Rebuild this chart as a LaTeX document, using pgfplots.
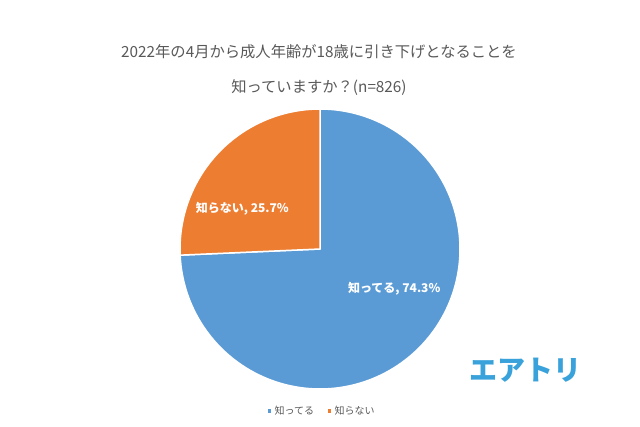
\documentclass[border=0pt]{standalone}
\usepackage{pgfplots}
\usepackage{pgfplotstable}
\pgfplotsset{compat=1.18}
\usepackage{fontspec}
\setmainfont{Noto Sans CJK JP}
\definecolor{pieblue}{HTML}{5B9BD5}
\definecolor{pieorange}{HTML}{ED7D31}
\definecolor{txtgray}{HTML}{595959}
\definecolor{logoblue}{HTML}{3AA2DB}
\pgfplotstableread{
label value
知ってる 74.3
知らない 25.7
}\piedata
\pgfplotstablegetelem{0}{value}\of\piedata\let\vA\pgfplotsretval
\pgfplotstablegetelem{1}{value}\of\piedata\let\vB\pgfplotsretval
\pgfmathsetmacro{\aStart}{90}
\pgfmathsetmacro{\aMid}{90-\vA*3.6}
\pgfmathsetmacro{\aEnd}{90-(\vA+\vB)*3.6}
\begin{document}
\begin{tikzpicture}[x=1pt,y=1pt]
\useasboundingbox[fill=white] (0,0) rectangle (640,426);
\node[text=txtgray,font=\fontsize{15.3}{18}\selectfont] at (319,374) {2022年の4月から成人年齢が18歳に引き下げとなることを};
\node[text=txtgray,font=\fontsize{15.3}{18}\selectfont] at (319,338) {知っていますか？(n=826)};
\begin{axis}[
  at={(320pt,177pt)}, anchor=center,
  scale only axis, width=280pt, height=280pt,
  xmin=-1, xmax=1, ymin=-1, ymax=1,
  hide axis, clip=false,
  legend columns=2,
  legend style={draw=none, fill=none, at={(0.505,-0.045)}, anchor=north,
    font=\fontsize{10}{12}\selectfont, text=txtgray,
    /tikz/every even column/.append style={column sep=10pt}},
  legend image code/.code={\fill[#1] (0pt,-2.5pt) rectangle (5pt,2.5pt);},
]
\addplot[fill=pieblue, draw=white, line width=1.5pt, domain=\aMid:\aStart, samples=200, line join=round]
  ({cos(x)},{sin(x)}) -- (axis cs:0,0) -- cycle;
\addlegendentry{知ってる}
\addplot[fill=pieorange, draw=white, line width=1.5pt, domain=\aEnd:\aMid, samples=100, line join=round]
  ({cos(x)},{sin(x)}) -- (axis cs:0,0) -- cycle;
\addlegendentry{知らない}
\node[text=white, font=\bfseries\fontsize{12}{14}\selectfont] at (axis cs:0.53,-0.285) {知ってる, 74.3\%};
\node[text=white, font=\bfseries\fontsize{12}{14}\selectfont] at (axis cs:-0.555,0.29) {知らない, 25.7\%};
\end{axis}
\node[text=logoblue, font=\bfseries\fontsize{28}{30}\selectfont] at (525,56) {エアトリ};
\end{tikzpicture}
\end{document}
